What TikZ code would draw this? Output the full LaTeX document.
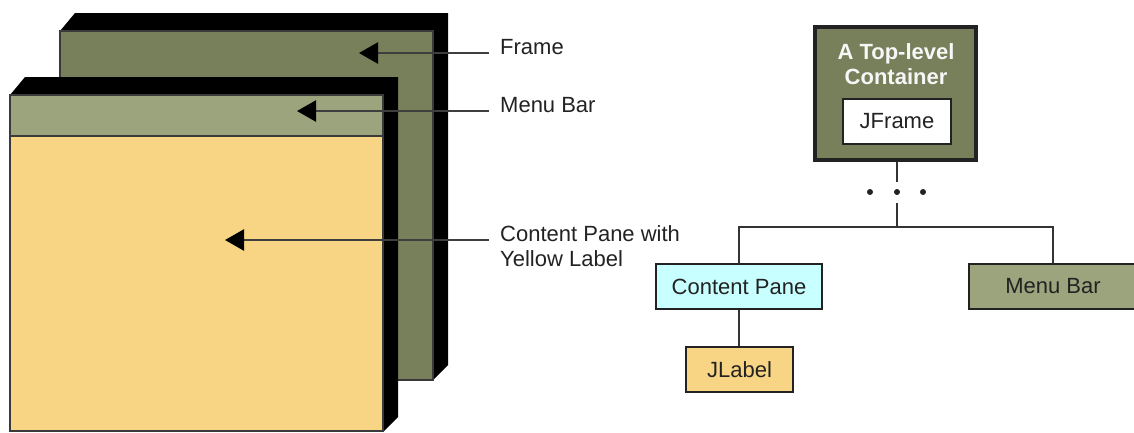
\documentclass[tikz,border=0pt]{standalone}
\usepackage{fontspec}
\setmainfont{Liberation Sans}
\usetikzlibrary{arrows.meta}

\definecolor{frameolive}{HTML}{777F5B}
\definecolor{barolive}{HTML}{9BA47C}
\definecolor{paneyellow}{HTML}{F7D584}
\definecolor{panecyan}{HTML}{C8FFFF}
\definecolor{ink}{HTML}{222222}
\definecolor{wireink}{HTML}{333333}
\definecolor{edgeink}{HTML}{3A3A3A}

\begin{document}
\begin{tikzpicture}[x=1pt,y=-1pt,
  txt/.style={font=\fontsize{22}{25}\selectfont},
  lbl/.style={txt, text=ink, inner xsep=11pt, inner ysep=0pt},
  pointer/.style={draw=wireink!85!gray, line width=2.5pt,
    -{Triangle[length=19pt,width=21pt,color=black]}},
  box/.style={txt, draw=ink, line width=2pt, inner sep=0pt, text=ink},
  topbox/.style={draw=ink, line width=4pt, fill=frameolive, inner sep=0pt},
  titletext/.style={font=\fontsize{22}{25}\selectfont\bfseries, text=white!94!gray, align=center, inner sep=0pt},
  wire/.style={draw=wireink, line width=2pt},
  dot/.style={circle, fill=ink, inner sep=0pt, minimum size=6pt}
]
\useasboundingbox (0,0) rectangle (1134,432);
\clip (0,0) rectangle (1134,432);

% ---- rear window (the frame) ----
\fill[black] (60,31) -- (75,13) -- (448,13) -- (448,365) -- (433,380) -- (433,31) -- cycle;
\filldraw[fill=frameolive, draw=edgeink, line width=1.2pt] (60,31) rectangle (433,380);

% ---- front window: menu bar over content pane ----
\fill[black] (10,95) -- (25,77) -- (398,77) -- (398,417) -- (383,432) -- (383,95) -- cycle;
\filldraw[fill=barolive, draw=edgeink, line width=1.2pt] (10,95) rectangle (383,136);
\filldraw[fill=paneyellow, draw=edgeink, line width=1.2pt] (10,136) rectangle (383,431);

% arrow targets inside the windows
\coordinate (frameTip) at (359,53);
\coordinate (barTip) at (297,111);
\coordinate (paneTip) at (225,240);

% ---- labels and pointers ----
\node[lbl, anchor=base west] (lblFrame) at (489,54) {Frame};
\node[lbl, anchor=base west] (lblBar) at (489,112) {Menu Bar};
\node[lbl, anchor=base west, align=left] (lblPane) at (489,266) {Content Pane with\\Yellow Label};

\draw[pointer] (lblFrame.west |- frameTip) -- (frameTip);
\draw[pointer] (lblBar.west |- barTip) -- (barTip);
\draw[pointer] (lblPane.west |- paneTip) -- (paneTip);

% ---- containment hierarchy ----
\node[topbox, minimum width=161pt, minimum height=133pt] (top) at (895.5,93.5) {};
\node[titletext] (title) at (896,64.5) {A Top-level\\Container};
\node[box, fill=white, minimum width=108pt, minimum height=45pt] (jf) at (897,121.5) {JFrame};

\coordinate (stubTop) at (897,182);
\coordinate (stubBot) at (897,203);
\coordinate (bus) at (897,227);

\node[dot] (d1) at (870,192) {};
\node[dot] (d2) at (897,192) {};
\node[dot] (d3) at (923,192) {};

\node[box, fill=panecyan, minimum width=166pt, minimum height=45pt] (cp) at (739,286.5) {Content Pane};
\node[box, fill=barolive, minimum width=168pt, minimum height=45pt] (mb) at (1053,286.5) {Menu Bar};
\node[box, fill=paneyellow, minimum width=107pt, minimum height=45pt] (jl) at (739.5,369.5) {JLabel};

\draw[wire] (stubTop |- top.south) -- (stubTop);
\draw[wire] (stubBot) -- (bus);
\draw[wire] (cp.north) |- (bus) -| (mb.north);
\draw[wire] (cp.south) -- (cp.south |- jl.north);
\end{tikzpicture}
\end{document}
